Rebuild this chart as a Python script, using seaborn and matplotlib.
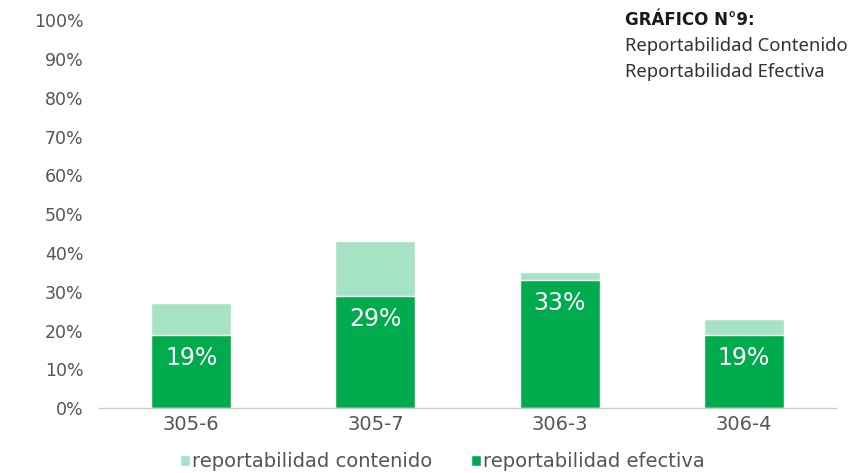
import matplotlib
matplotlib.use("Agg")
import matplotlib.pyplot as plt
import pandas as pd
import seaborn as sns
from matplotlib.ticker import PercentFormatter

# data
categorias = ["305-6", "305-7", "306-3", "306-4"]
contenido = [0.27, 0.43, 0.35, 0.23]
efectiva = [0.19, 0.29, 0.33, 0.19]

df = pd.DataFrame({"cat": categorias, "contenido": contenido, "efectiva": efectiva})

sns.set_style("white")
plt.rcParams["font.family"] = ["DejaVu Sans"]

light = "#A6E3C4"
dark = "#00AB4E"
grey = "#555555"

fig = plt.figure(figsize=(8.57, 4.73), dpi=100, facecolor="white")
ax = fig.add_axes([0.1155, 0.137, 0.86, 0.82])

sns.barplot(data=df, x="cat", y="contenido", color=light, width=0.435,
            saturation=1, label="reportabilidad contenido", ax=ax)
sns.barplot(data=df, x="cat", y="efectiva", color=dark, width=0.435,
            saturation=1, label="reportabilidad efectiva", ax=ax)

# labels for the efectiva bars
for patch, val in zip(ax.containers[1], efectiva):
    x = patch.get_x() + patch.get_width() / 2
    ax.text(x, val - 0.06, f"{val:.0%}", ha="center", va="center",
            color="white", fontsize=17)

ax.set_ylim(0, 1)
ax.set_xlim(-0.5, 3.5)
ax.set_yticks([i / 10 for i in range(11)])
ax.yaxis.set_major_formatter(PercentFormatter(1.0, decimals=0))
ax.tick_params(axis="y", length=0, pad=11, labelsize=12.5, labelcolor=grey)
ax.tick_params(axis="x", length=0, pad=5, labelsize=14, labelcolor=grey)
ax.set_xlabel("")
ax.set_ylabel("")
for side in ["top", "right", "left"]:
    ax.spines[side].set_visible(False)
ax.spines["bottom"].set_color("#cccccc")
ax.spines["bottom"].set_linewidth(1)

ax.legend(loc="upper center", bbox_to_anchor=(0.466, -0.068), ncol=2,
          frameon=False, fontsize=14, handlelength=0.5, handleheight=0.5,
          handletextpad=0.1, columnspacing=2.0, labelcolor=grey)

fig.text(0.729, 0.958, "GRÁFICO N°9:", fontsize=12, fontweight="bold",
         color="#1a1a1a", va="center")
fig.text(0.729, 0.903, "Reportabilidad Contenido", fontsize=13.3,
         color="#333333", va="center", family=["Noto Sans", "DejaVu Sans"])
fig.text(0.729, 0.848, "Reportabilidad Efectiva", fontsize=13.3,
         color="#333333", va="center", family=["Noto Sans", "DejaVu Sans"])

fig.savefig("out.png", dpi=100, facecolor="white")
